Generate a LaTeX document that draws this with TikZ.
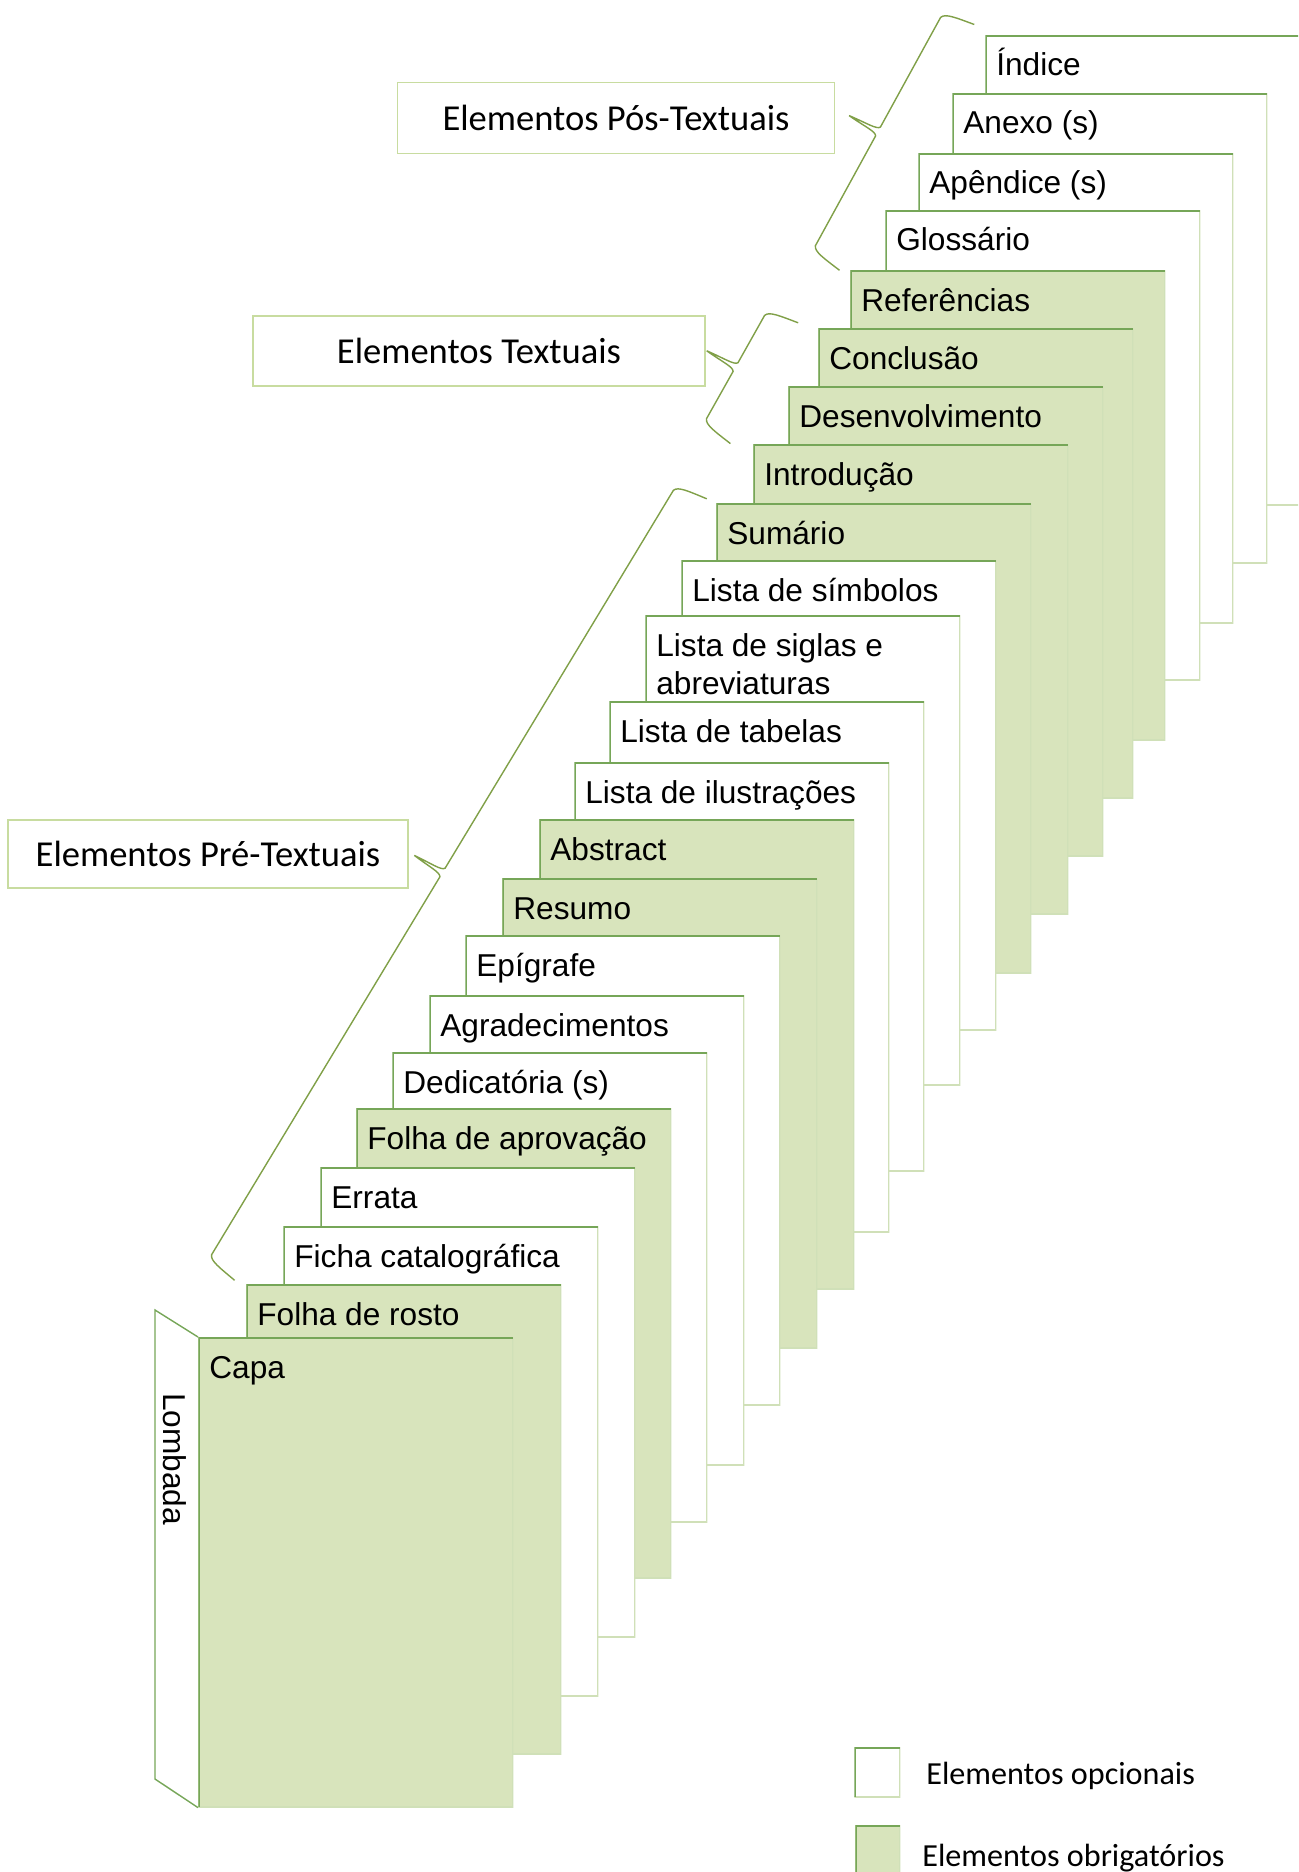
\documentclass[tikz,border=0pt]{standalone}
\usepackage{fontspec}
\setmainfont{Liberation Sans}
\newfontfamily\boxfont{Carlito}
\definecolor{pagegreen}{RGB}{216,228,188}
\definecolor{pagedark}{RGB}{118,166,88}
\definecolor{pagelight}{RGB}{208,224,184}
\definecolor{bracegreen}{RGB}{128,160,72}
\definecolor{boxline}{RGB}{200,220,160}

\tikzset{
  edges/.style={path picture={
    \draw[pagelight, line width=1.6pt] (path picture bounding box.north east) -- (path picture bounding box.south east) -- (path picture bounding box.south west);
    \draw[pagedark, line width=1.6pt] (path picture bounding box.south west) -- (path picture bounding box.north west) -- (path picture bounding box.north east);}},
  page/.style={edges, fill=white, anchor=north west, inner sep=0pt, minimum width=6.3cm, minimum height=9.4cm},
  reqpage/.style={page, fill=pagegreen},
  ptext/.style={anchor=base west, inner sep=0pt, align=left, font=\fontsize{18}{21.6}\selectfont},
  lbox/.style={draw=boxline, line width=0.8pt, font=\boxfont\fontsize{20.8}{25}\selectfont},
  brace/.style={draw=bracegreen, line width=0.8pt},
  legtext/.style={anchor=base west, inner sep=0pt, font=\boxfont\fontsize{18.3}{22}\selectfont}
}

\begin{document}
\begin{tikzpicture}[x=0.02cm, y=-0.02cm]
  \useasboundingbox (0,0) rectangle (1298,1872);
  \clip (0,0) rectangle (1298,1872);

  \node[page] (indice) at (985,35) {};
  \node[ptext] (indice-t) at ([shift={(11,41)}]indice.north west) {Índice};
  \node[page] (anexo) at (952,93) {};
  \node[ptext] (anexo-t) at ([shift={(11,41)}]anexo.north west) {Anexo (s)};
  \node[page] (apendice) at (918,153) {};
  \node[ptext] (apendice-t) at ([shift={(11,41)}]apendice.north west) {Apêndice (s)};
  \node[page] (glossario) at (885,210) {};
  \node[ptext] (glossario-t) at ([shift={(11,41)}]glossario.north west) {Glossário};

  \node[reqpage] (referencias) at (850,270) {};
  \node[ptext] (referencias-t) at ([shift={(11,41)}]referencias.north west) {Referências};
  \node[reqpage] (conclusao) at (818,328) {};
  \node[ptext] (conclusao-t) at ([shift={(11,41)}]conclusao.north west) {Conclusão};
  \node[reqpage] (desenv) at (788,386) {};
  \node[ptext] (desenv-t) at ([shift={(11,41)}]desenv.north west) {Desenvolvimento};
  \node[reqpage] (intro) at (753,444) {};
  \node[ptext] (intro-t) at ([shift={(11,41)}]intro.north west) {Introdução};

  \node[reqpage] (sumario) at (716,503) {};
  \node[ptext] (sumario-t) at ([shift={(11,41)}]sumario.north west) {Sumário};
  \node[page] (simbolos) at (681,560) {};
  \node[ptext] (simbolos-t) at ([shift={(11,41)}]simbolos.north west) {Lista de símbolos};
  \node[page] (siglas) at (645,615) {};
  \node[ptext] (siglas-t) at ([shift={(11,79)}]siglas.north west) {Lista de siglas e\\abreviaturas};
  \node[page] (tabelas) at (609,701) {};
  \node[ptext] (tabelas-t) at ([shift={(11,41)}]tabelas.north west) {Lista de tabelas};
  \node[page] (ilustracoes) at (574,762) {};
  \node[ptext] (ilustracoes-t) at ([shift={(11,41)}]ilustracoes.north west) {Lista de ilustrações};
  \node[reqpage] (abstract) at (539,819) {};
  \node[ptext] (abstract-t) at ([shift={(11,41)}]abstract.north west) {Abstract};
  \node[reqpage] (resumo) at (502,878) {};
  \node[ptext] (resumo-t) at ([shift={(11,41)}]resumo.north west) {Resumo};
  \node[page] (epigrafe) at (465,935) {};
  \node[ptext] (epigrafe-t) at ([shift={(11,41)}]epigrafe.north west) {Epígrafe};
  \node[page] (agradec) at (429,995) {};
  \node[ptext] (agradec-t) at ([shift={(11,41)}]agradec.north west) {Agradecimentos};
  \node[page] (dedicatoria) at (392,1052) {};
  \node[ptext] (dedicatoria-t) at ([shift={(11,41)}]dedicatoria.north west) {Dedicatória (s)};
  \node[reqpage] (aprovacao) at (356,1108) {};
  \node[ptext] (aprovacao-t) at ([shift={(11,41)}]aprovacao.north west) {Folha de aprovação};
  \node[page] (errata) at (320,1167) {};
  \node[ptext] (errata-t) at ([shift={(11,41)}]errata.north west) {Errata};
  \node[page] (ficha) at (283,1226) {};
  \node[ptext] (ficha-t) at ([shift={(11,41)}]ficha.north west) {Ficha catalográfica};
  \node[reqpage] (rosto) at (246,1284) {};
  \node[ptext] (rosto-t) at ([shift={(11,41)}]rosto.north west) {Folha de rosto};
  \node[reqpage] (capa) at (198,1337) {};
  \node[ptext] (capa-t) at ([shift={(11,41)}]capa.north west) {Capa};

  \coordinate (lomb-top) at (155,1310);
  \coordinate (lomb-bot) at (155,1779);
  \draw[pagedark, line width=0.8pt] (capa.north west) -- (lomb-top) -- (lomb-bot) -- (capa.south west);
  \node[rotate=-90, font=\fontsize{18}{21.6}\selectfont] (lombada) at (175,1459) {Lombada};

  \node[lbox, minimum width=8.74cm, minimum height=1.42cm] (pos) at (616,118) {Elementos Pós-Textuais};
  \node[lbox, minimum width=9.04cm, minimum height=1.4cm] (textuais) at (479,351) {Elementos Textuais};
  \node[lbox, minimum width=8cm, minimum height=1.36cm] (pre) at (208,854) {Elementos Pré-Textuais};

  \draw[brace] (974.3,24.5) .. controls (956.3,17.9) and (945.3,13.1) .. (940.6,17.4)
    -- (880.4,127.1) .. controls (876.7,129.6) and (866.7,123.1) .. (849.1,115.6)
    .. controls (864.7,126.6) and (875.7,131.4) .. (875.6,135.9)
    -- (815.4,245.7) .. controls (814.3,251.9) and (824.3,258.5) .. (839.5,270.3);
  \draw[brace] (798.2,322.8) .. controls (780.2,316.1) and (769.2,311.1) .. (764.6,315.4)
    -- (738.0,362.7) .. controls (734.3,365.2) and (724.3,358.4) .. (706.7,350.8)
    .. controls (722.3,361.9) and (733.3,366.9) .. (733.1,371.4)
    -- (706.5,418.7) .. controls (705.3,424.9) and (715.3,431.7) .. (730.4,443.6);
  \draw[brace] (706.8,498.8) .. controls (689.0,491.5) and (678.2,486.2) .. (673.4,490.3)
    -- (445.1,868.2) .. controls (441.3,870.6) and (431.5,863.6) .. (414.3,855.4)
    .. controls (429.5,867.0) and (440.3,872.3) .. (439.9,876.8)
    -- (211.6,1254.7) .. controls (210.2,1260.8) and (220.0,1267.9) .. (234.6,1280.3);

  \node[page, minimum width=0.92cm, minimum height=1cm] (optkey) at (854,1747) {};
  \node[legtext] (optkey-t) at (926,1784) {Elementos opcionais};
  \node[reqpage, minimum width=0.9cm, minimum height=1cm] (reqkey) at (855,1825) {};
  \node[legtext] (reqkey-t) at (922,1866) {Elementos obrigatórios};
\end{tikzpicture}
\end{document}
